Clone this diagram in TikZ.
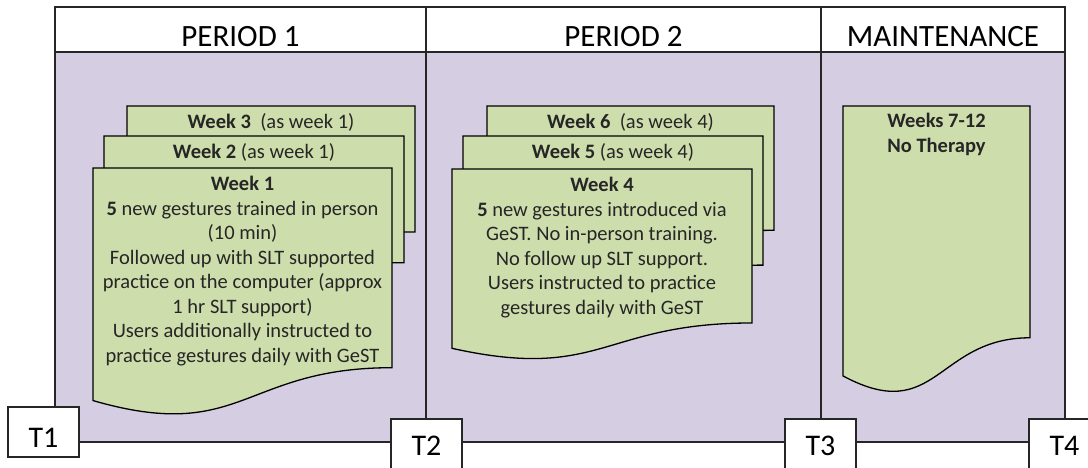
\documentclass[tikz,border=0pt]{standalone}
\usepackage{fontspec}
\setmainfont{Carlito}
\usetikzlibrary{positioning}
\definecolor{lilac}{RGB}{213,205,225}
\definecolor{sage}{RGB}{206,221,172}
\tikzset{
  lineframe/.style={draw=black!85, line width=1.3pt},
  docbox/.style={draw=black, line width=1.3pt, fill=sage},
  doctext/.style={anchor=north, align=center, inner sep=0pt, text=black!85,
    font=\fontsize{20.5}{24.5}\selectfont},
  headtext/.style={anchor=base, font=\fontsize{31}{36}\selectfont},
  tbox/.style={draw=black!85, line width=1.3pt, fill=white, minimum width=71pt,
    minimum height=50pt, inner sep=0pt, text height=30pt, text depth=0pt,
    font=\fontsize{30}{36}\selectfont}}
% document shape: left, top, right, height
\newcommand{\weekdoc}[4]{%
  \draw[docbox] (#1,#2) -- (#3,#2) -- (#3,{#2+0.802*#4})
    .. controls ({(#1+#3)/2},{#2+0.802*#4}) and ({(#1+#3)/2},{#2+1.1075*#4})
    .. (#1,{#2+0.934*#4}) -- cycle;}

\begin{document}
\begin{tikzpicture}[x=1pt, y=-1pt]
  \useasboundingbox (0,0) rectangle (1088,468);
  \clip (0,0) rectangle (1088,468);
  \coordinate (c0) at (55,7);
  \coordinate (c1) at (426,7);
  \coordinate (c2) at (821,7);
  \coordinate (c3) at (1065,7);
  \coordinate (bl) at (0,442);
  \fill[lilac] (55,52) rectangle (1065,442);
  \draw[lineframe, fill=white] (c0) rectangle (1065,52);
  \node[headtext] (hp1) at (240.5,47) {PERIOD 1};
  \node[headtext] (hp2) at (623.5,47) {PERIOD 2};
  \node[headtext] (hmaint) at (943,47) {MAINTENANCE};
  % time points
  \node[tbox] (t1) at (43.5,432) {T1};
  \node[tbox, text height=22pt] (t2) at (426.5,444) {T2};
  \node[tbox, text height=22pt] (t3) at (820.5,444) {T3};
  \node[tbox, text height=22pt] (t4) at (1064.5,444) {T4};
  \draw[lineframe] (c0) -- (c0 |- t1.north);
  \draw[lineframe] (c1) -- (c1 |- t2.north);
  \draw[lineframe] (c2) -- (c2 |- t3.north);
  \draw[lineframe] (c3) -- (c3 |- t4.north);
  \draw[lineframe] (bl -| t1.east) -- (bl -| t2.west);
  \draw[lineframe] (bl -| t2.east) -- (bl -| t3.west);
  \draw[lineframe] (bl -| t3.east) -- (bl -| t4.west);
  % period 1
  \weekdoc{127}{106}{415}{157}
  \node[doctext] (wk3) at (271,113) {\textbf{Week 3}~~(as week 1)};
  \weekdoc{104}{136}{404}{158}
  \node[doctext] (wk2) at (254,143) {\textbf{Week 2} (as week 1)};
  \weekdoc{93}{168}{392}{249}
  \node[doctext] (wk1) at (242.5,176) {\textbf{Week 1}\\
    \textbf{5} new gestures trained in person\\
    (10 min)\\
    Followed up with SLT supported\\
    practice on the computer (approx\\
    1 hr SLT support)\\
    Users additionally instructed to\\
    practice gestures daily with GeST};
  % period 2
  \weekdoc{487}{106}{774}{155}
  \node[doctext] (wk6) at (630.5,113) {\textbf{Week 6}~~(as week 4)};
  \weekdoc{463}{136}{763}{161}
  \node[doctext] (wk5) at (613,143) {\textbf{Week 5} (as week 4)};
  \weekdoc{452}{169}{752}{192}
  \node[doctext] (wk4) at (602,177) {\textbf{Week 4}\\
    \textbf{5} new gestures introduced via\\
    GeST. No in-person training.\\
    No follow up SLT support.\\
    Users instructed to practice\\
    gestures daily with GeST};
  % maintenance
  \weekdoc{843}{106}{1030}{289}
  \node[doctext, font=\bfseries\fontsize{20.5}{24.5}\selectfont] (wk7) at (936.5,113)
    {Weeks 7-12\\No Therapy};
\end{tikzpicture}
\end{document}
